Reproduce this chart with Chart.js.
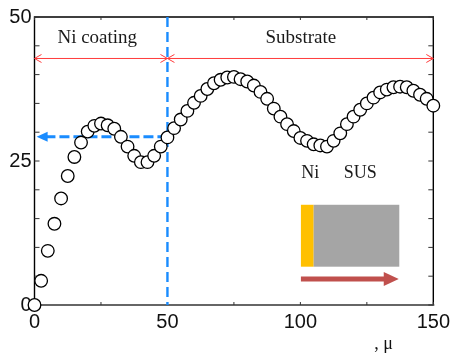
<!DOCTYPE html>
<html>
<head>
<meta charset="utf-8">
<script src="https://cdn.jsdelivr.net/npm/chart.js@4"></script>
<style>
  html, body { margin: 0; padding: 0; background: #fff; }
  #wrap { width: 455px; height: 353px; }
</style>
</head>
<body>
<div id="wrap"><canvas id="depth_chart"></canvas></div>
<script>
var depths = [
  0, 2.5, 5, 7.5, 10, 12.5, 15, 17.5, 20, 22.5,
  25, 27.5, 30, 32.5, 35, 37.5, 40, 42.5, 45, 47.5,
  50, 52.5, 55, 57.5, 60, 62.5, 65, 67.5, 70, 72.5,
  75, 77.5, 80, 82.5, 85, 87.5, 90, 92.5, 95, 97.5,
  100, 102.5, 105, 107.5, 110, 112.5, 115, 117.5, 120, 122.5,
  125, 127.5, 130, 132.5, 135, 137.5, 140, 142.5, 145, 147.5,
  150
];
var values = [
  0, 4.2, 9.4, 14.1, 18.5, 22.4, 25.7, 28.2, 30.1, 31.1,
  31.5, 31.2, 30.6, 29.2, 27.5, 25.9, 24.8, 24.8, 25.9, 27.5,
  29.1, 30.7, 32.2, 33.7, 35.1, 36.3, 37.5, 38.5, 39.1, 39.5,
  39.6, 39.2, 38.8, 38.1, 37.0, 35.8, 34.1, 32.7, 31.4, 30.2,
  29.0, 28.5, 27.9, 27.7, 27.5, 28.5, 29.8, 31.4, 32.7, 33.9,
  35.0, 36.0, 36.9, 37.4, 37.8, 37.9, 37.8, 37.2, 36.5, 35.8,
  34.6
];
var x_labels = [0, 50, 100, 150];
var y_labels = [0, 25, 50];
var coating_end = 50;      // boundary Ni / substrate
var boundary_value = 29.2; // level of the dashed arrow

var points = [];
for (var i = 0; i < depths.length; i++) {
  points.push({x: depths[i], y: values[i]});
}

var serif = '"Liberation Serif", "Times New Roman", serif';

function openHead(ctx, x, y, dir) {
  ctx.beginPath();
  ctx.moveTo(x - dir * 7, y - 4);
  ctx.lineTo(x, y);
  ctx.lineTo(x - dir * 7, y + 4);
  ctx.stroke();
}

let overlay = {
  id: 'overlay',
  beforeDatasetsDraw: function(chart) {
    let ctx = chart.ctx;
    let a = chart.chartArea;
    let xs = chart.scales.x;
    let ys = chart.scales.y;
    ctx.save();

    // frame
    ctx.lineWidth = 1.4;
    ctx.strokeStyle = '#000';
    ctx.beginPath();
    ctx.moveTo(a.left, a.bottom); ctx.lineTo(a.left, a.top);
    ctx.lineTo(a.right, a.top); ctx.lineTo(a.right, a.bottom);
    ctx.stroke();
    ctx.strokeStyle = '#666';
    ctx.lineWidth = 2;
    ctx.beginPath();
    ctx.moveTo(a.left, a.bottom); ctx.lineTo(a.right + 1, a.bottom);
    ctx.stroke();

    // inward ticks
    ctx.lineWidth = 1;
    ctx.strokeStyle = '#333';
    xs.ticks.forEach(function(t) {
      let px = xs.getPixelForValue(t.value);
      ctx.beginPath();
      ctx.moveTo(px, a.bottom); ctx.lineTo(px, a.bottom - 3);
      ctx.moveTo(px, a.top); ctx.lineTo(px, a.top + 3);
      ctx.stroke();
    });
    ys.ticks.forEach(function(t) {
      let py = ys.getPixelForValue(t.value);
      ctx.beginPath();
      ctx.moveTo(a.left, py); ctx.lineTo(a.left + 5, py);
      ctx.moveTo(a.right, py); ctx.lineTo(a.right - 5, py);
      ctx.stroke();
    });

    // blue dashed boundary
    let bx = xs.getPixelForValue(coating_end);
    ctx.strokeStyle = '#1a8cff';
    ctx.fillStyle = '#1a8cff';
    ctx.lineWidth = 2.4;
    ctx.setLineDash([10, 5]);
    ctx.beginPath();
    ctx.moveTo(bx, a.top); ctx.lineTo(bx, a.bottom);
    ctx.stroke();
    let by = ys.getPixelForValue(boundary_value);
    let tip = xs.getPixelForValue(0.8);
    ctx.lineWidth = 3;
    ctx.setLineDash([10, 4]);
    ctx.beginPath();
    ctx.moveTo(bx, by); ctx.lineTo(tip + 9, by);
    ctx.stroke();
    ctx.setLineDash([]);
    ctx.beginPath();
    ctx.moveTo(tip, by); ctx.lineTo(tip + 11, by - 5); ctx.lineTo(tip + 11, by + 5);
    ctx.closePath();
    ctx.fill();

    // red range arrows
    let ry = ys.getPixelForValue(42.8);
    let x0 = xs.getPixelForValue(0), x1 = xs.getPixelForValue(150);
    ctx.strokeStyle = '#ff3b3b';
    ctx.lineWidth = 1;
    ctx.beginPath();
    ctx.moveTo(x0, ry); ctx.lineTo(x1, ry);
    ctx.stroke();
    openHead(ctx, x0, ry, -1);
    openHead(ctx, bx, ry, 1);
    openHead(ctx, bx, ry, -1);
    openHead(ctx, x1, ry, 1);

    // texts
    ctx.fillStyle = '#1a1a1a';
    ctx.font = '19px ' + serif;
    ctx.textAlign = 'center';
    ctx.textBaseline = 'middle';
    ctx.fillText('Ni coating', xs.getPixelForValue(23.6), ys.getPixelForValue(46.3));
    ctx.fillText('Substrate', xs.getPixelForValue(100.2), ys.getPixelForValue(46.3));
    ctx.font = '18px ' + serif;
    ctx.fillText('Ni', xs.getPixelForValue(103.7), ys.getPixelForValue(22.9));
    ctx.fillText('SUS', xs.getPixelForValue(122.5), ys.getPixelForValue(22.9));

    // sample sketch
    let top = ys.getPixelForValue(17.4), bot = ys.getPixelForValue(6.65);
    let s0 = xs.getPixelForValue(100.2), s1 = xs.getPixelForValue(105), s2 = xs.getPixelForValue(137.2);
    ctx.fillStyle = '#ffc000';
    ctx.fillRect(s0, top, s1 - s0, bot - top);
    ctx.fillStyle = '#a5a5a5';
    ctx.fillRect(s1, top, s2 - s1, bot - top);
    let ay = ys.getPixelForValue(4.5);
    let atip = xs.getPixelForValue(137);
    ctx.strokeStyle = '#c0504d';
    ctx.fillStyle = '#c0504d';
    ctx.lineWidth = 5;
    ctx.beginPath();
    ctx.moveTo(s0, ay); ctx.lineTo(atip - 12, ay);
    ctx.stroke();
    ctx.beginPath();
    ctx.moveTo(atip, ay); ctx.lineTo(atip - 15, ay - 7); ctx.lineTo(atip - 15, ay + 7);
    ctx.closePath();
    ctx.fill();

    // axis title
    ctx.fillStyle = '#111';
    ctx.font = '18px ' + serif;
    ctx.fillText(', \u03bc', xs.getPixelForValue(131.3), 344);
    ctx.restore();
  }
};

let depth_chart = new Chart(document.querySelector('#depth_chart').getContext('2d'), {
  type: 'scatter',
  data: {
    datasets: [{
      data: points,
      showLine: false,
      pointRadius: 6.3,
      pointBorderWidth: 1.3,
      pointBorderColor: '#000',
      pointBackgroundColor: '#fff',
      clip: false
    }]
  },
  options: {
    responsive: true,
    maintainAspectRatio: false,
    animation: false,
    layout: { padding: { top: 17, right: 19, left: 0, bottom: 0 } },
    plugins: { legend: { display: false }, tooltip: { enabled: false } },
    scales: {
      x: {
        type: 'linear', min: 0, max: 150,
        grid: { display: false, drawTicks: false },
        border: { display: false },
        afterFit: function(s) { s.height = 48; },
        ticks: {
          stepSize: 25, padding: 5, color: '#111', maxRotation: 0,
          font: { family: '"Liberation Sans", Arial, sans-serif', size: 20 },
          callback: function(v) { return x_labels.indexOf(v) >= 0 ? String(v) : ''; }
        }
      },
      y: {
        type: 'linear', min: 0, max: 50,
        grid: { display: false, drawTicks: false },
        border: { display: false },
        afterFit: function(s) { s.width = 34.5; },
        ticks: {
          stepSize: 5, padding: 3, color: '#111',
          font: { family: '"Liberation Sans", Arial, sans-serif', size: 20 },
          callback: function(v) { return y_labels.indexOf(v) >= 0 ? String(v) : ''; }
        }
      }
    }
  },
  plugins: [overlay]
});
</script>
</body>
</html>
